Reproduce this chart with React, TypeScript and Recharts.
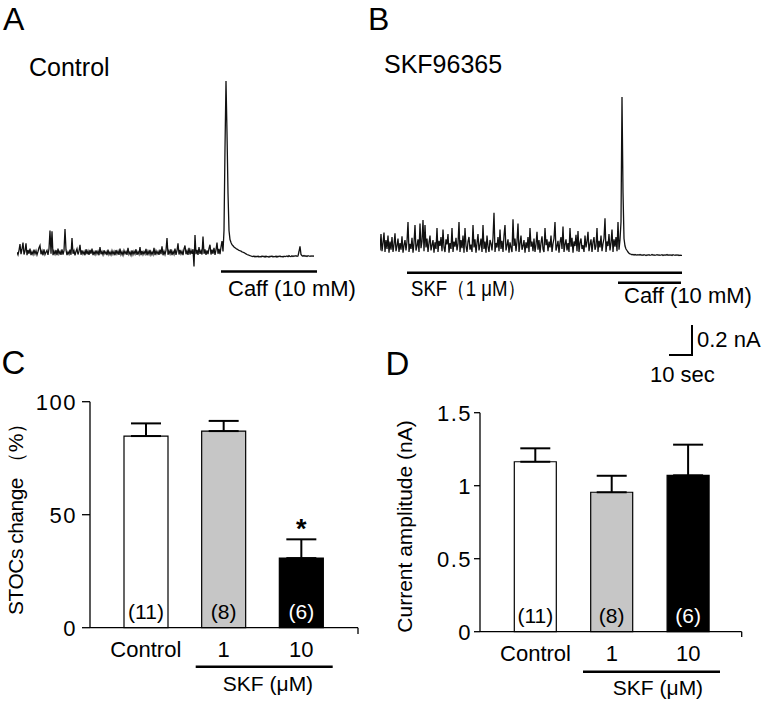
import React from 'react';
import { LineChart, Line, XAxis, YAxis, BarChart, Bar, Cell, ErrorBar, LabelList } from 'recharts';

const FONT = '"Liberation Sans", Arial, sans-serif';

// membrane current traces, pA relative to the resting baseline (one sample per ~0.43 s)
const controlTrace = [
  5, -12, 18, 60, -8, 25, 70, -10, 12, 65, -15, 20, -5, 30, -14, 8, -10, 22, -6, 15,
  -12, 10, 35, 50, -8, 14, -15, 25, -10, 5, 18, -12, 28, 150, -5, 145, -14, 12, -8, 20,
  -15, 30, -6, 10, -12, 24, -10, 15, 160, 20, -14, 8, -8, 22, -12, 100, -5, 15, -15, 10,
  28, -10, 12, 55, -12, 18, -6, 10, -15, 25, -8, 14, -12, 20, -5, 30, -14, 8, -10, 18,
  -6, 12, -15, 40, -8, 10, -12, 18, -5, 8, -14, 22, -10, 6, -12, 15, -8, 10, -15, 20,
  -6, 12, -12, 30, -10, 8, -14, 16, -5, 10, -12, 35, -8, 6, -15, 18, -10, 12, -6, 25,
  -12, 8, -8, 40, -14, 14, -10, 10, -6, 28, -15, 12, -8, 20, -12, 6, -10, 35, -14, 15,
  -6, 10, -12, 22, -8, 45, -15, 12, -10, 18, 100, -12, 14, -6, 25, -14, 10, -8, 30, -12,
  15, 65, -10, 20, -6, 12, -14, 28, 50, -8, 15, -12, 35, -10, 18, -5, 25, -90, 120, -8,
  20, -12, 40, -6, 15, -10, 110, -5, 25, -12, 18, -8, 30, 55, -10, 22, -5, 35, -12, 20,
  70, -5, 28, -8, 40, 80, 10, 150, 700, 1147, 800, 400, 150, 90, 70, 55, 48, 40, 35, 30,
  26, 22, 18, 15, 12, 8, 5, 2, -2, -6, -10, -12, -15, -18, -20, -22, -24, -20, -26, -22,
  -25, -21, -27, -23, -26, -20, -24, -22, -27, -21, -25, -23, -28, -22, -24, -20, -26, -23, -25, -21,
  -27, -22, -24, -20, -25, -23, -26, -21, -24, -22, -20, -25, -18, -22, -24, -19, -23, -20, -21, -18,
  -22, -20, 10, 45, -10, -18, -21, -17, -22, -19, -23, -18, -20, -22, -19, -21, -20, -22,
];

const skfTrace = [
  10, 120, 5, 60, 130, 0, 80, 20, 110, -5, 70, 15, 100, 0, 50, 125, 5, 40, 90, 0,
  60, 15, 105, -5, 45, 80, 10, 70, 200, 0, 55, 20, 95, -5, 60, 180, 10, 40, 85, 0,
  190, 25, 70, 213, 5, 180, 30, 90, 0, 60, 110, 10, 45, 80, -5, 65, 20, 160, 0, 75,
  40, 100, 5, 150, 30, 0, 85, 50, 120, -5, 60, 20, 160, 0, 70, 35, 95, 10, 55, 200,
  0, 80, 25, 110, -5, 160, 40, 0, 70, 100, 15, 50, 0, 180, 30, 85, -5, 60, 120, 10,
  45, 90, 0, 180, 20, 70, -5, 110, 35, 0, 80, 55, 10, 95, 262, 0, 60, 30, 100, 5,
  150, 20, 75, 0, 110, 180, 10, 45, 85, -5, 65, 30, 0, 218, 40, 90, 5, 70, 190, 0,
  55, 110, 15, 40, 80, -5, 65, 25, 100, 0, 160, 35, 70, 5, 90, 0, 50, 135, 15, 80,
  -5, 60, 105, 20, 0, 160, 45, 85, 5, 70, 30, 110, 0, 55, 90, 200, 10, 40, 75, -5,
  65, 100, 20, 170, 0, 50, 85, 10, 60, 0, 160, 35, 95, -5, 70, 40, 115, 5, 140, 0,
  60, 90, 20, 45, 0, 110, 30, 70, 135, 5, 50, 85, 0, 65, 100, 15, 40, 160, 0, 75,
  30, 110, 5, 55, 90, 225, 0, 70, 40, 120, 10, 60, 150, 0, 85, 35, 100, 5, 200, 15,
  80, 200, 1033, 400, 90, 40, 20, 10, 0, -8, -12, -15, -18, -16, -20, -17, -19, -21, -18, -20,
  -17, -21, -19, -22, -18, -20, -23, -19, -21, -18, -22, -20, -17, -21, -19, -22, -20, -18, -21, -19,
  -22, -20, -18, -23, -19, -21, -20, -17, -22, -19, -21, -20, -23, -18, -20, -22, -19, -21, -20, -24,
  -21, -23, -22,
];

const groups = ['Control', '1', '10'];
const counts = ['(11)', '(8)', '(6)'];
const stocsChange = [84.8, 87.0, 30.8];
const stocsSem = [5.6, 4.5, 8.3];
const stocsSig = ['', '', '*'];
const stocsTicks = [0, 50, 100];
const amplitude = [1.164, 0.955, 1.071];
const amplitudeSem = [0.092, 0.113, 0.21];
const amplitudeTicks = [0, 0.5, 1, 1.5];

const barFills = ['#ffffff', '#c6c6c6', '#000000'];
const countFills = ['#000', '#000', '#fff'];

function Trace({ data, left, width, domain }: { data: number[]; left: number; width: number; domain: number[] }) {
  const rows = data.map((v, i) => ({ t: i, v }));
  return (
    <div style={{ position: 'absolute', left, top: 70 }}>
      <LineChart width={width} height={205} data={rows} margin={{ top: 0, right: 0, bottom: 0, left: 0 }}>
        <XAxis type="number" dataKey="t" domain={[0, data.length - 1]} hide />
        <YAxis type="number" domain={domain} hide allowDataOverflow />
        <Line type="linear" dataKey="v" stroke="#111" strokeWidth={1.3} dot={false} isAnimationActive={false} />
      </LineChart>
    </div>
  );
}

const boxOf = (p: any) => {
  const vb = p.viewBox || {};
  return {
    x: p.x ?? vb.x,
    y: p.y ?? vb.y,
    w: p.width ?? vb.width,
    h: p.height ?? vb.height,
  };
};

const renderCount = (p: any) => {
  const { x, y, w, h } = boxOf(p);
  return (
    <text x={x + w / 2} y={y + h - 9} textAnchor="middle" fontSize={21} fontFamily={FONT} fill={countFills[p.index] || '#000'}>
      {p.value}
    </text>
  );
};

type Row = { group: string; value: number; err: number[]; n: string; sig: string };

function BarPanel(props: {
  rows: Row[]; left: number; top: number; width: number; height: number;
  margin: { top: number; right: number; bottom: number; left: number };
  yWidth: number; domain: number[]; ticks: number[]; tickSize: number; tickGap: number; barSize: number;
  padding: { left: number; right: number };
}) {
  const { rows } = props;
  const renderSig = (p: any) => {
    const r = rows[p.index];
    if (!r || !r.sig) return null;
    const { x, y, w, h } = boxOf(p);
    const top = y - r.err[1] * (h / r.value);
    return (
      <text x={x + w / 2} y={top - 1} textAnchor="middle" fontSize={27} fontWeight="bold" fontFamily={FONT} fill="#000">
        {r.sig}
      </text>
    );
  };
  return (
    <div style={{ position: 'absolute', left: props.left, top: props.top }}>
      <BarChart width={props.width} height={props.height} data={rows} margin={props.margin} barCategoryGap={0}>
        <XAxis
          dataKey="group"
          padding={props.padding}
          axisLine={{ stroke: '#000', strokeWidth: 1.3 }}
          tickLine={false}
          tickMargin={8}
          height={30}
          interval={0}
          tick={{ fontSize: 22, fill: '#000', fontFamily: FONT }}
        />
        <YAxis
          width={props.yWidth}
          domain={props.domain}
          ticks={props.ticks}
          axisLine={{ stroke: '#000', strokeWidth: 1.3 }}
          tickLine={{ stroke: '#000', strokeWidth: 1.3 }}
          tickSize={props.tickSize}
          tickMargin={props.tickGap}
          tick={{ fontSize: 22, fill: '#000', fontFamily: FONT, letterSpacing: 1.5 }}
        />
        <Bar dataKey="value" barSize={props.barSize} stroke="#000" strokeWidth={1.2} isAnimationActive={false}>
          {rows.map((r, i) => (
            <Cell key={r.group} fill={barFills[i]} />
          ))}
          <ErrorBar dataKey="err" width={15} stroke="#000" strokeWidth={2} direction="y" />
          <LabelList dataKey="n" content={renderCount} />
          <LabelList dataKey="sig" content={renderSig} />
        </Bar>
      </BarChart>
    </div>
  );
}

export default function App() {
  const stocsRows: Row[] = groups.map((g, i) => ({
    group: g, value: stocsChange[i], err: [0, stocsSem[i]], n: counts[i], sig: stocsSig[i],
  }));
  const ampRows: Row[] = groups.map((g, i) => ({
    group: g, value: amplitude[i], err: [0, amplitudeSem[i]], n: counts[i], sig: '',
  }));

  const txt = { fontFamily: FONT, fill: '#000' };

  return (
    <div style={{ position: 'absolute', left: 0, top: 0, width: 765, height: 703, background: '#fff', overflow: 'hidden' }}>
      <Trace data={controlTrace} left={17} width={297} domain={[-146.67, 1220]} />
      <Trace data={skfTrace} left={380} width={302} domain={[-153.33, 1213.33]} />

      <BarPanel
        rows={stocsRows} left={0} top={380} width={380} height={320}
        margin={{ top: 21.7, right: 22, bottom: 42.3, left: 0 }}
        yWidth={90} domain={[0, 100]} ticks={stocsTicks} tickSize={8} tickGap={5} barSize={44}
        padding={{ left: 17, right: 18 }}
      />
      <BarPanel
        rows={ampRows} left={380} top={380} width={385} height={320}
        margin={{ top: 32.7, right: 23.3, bottom: 38.3, left: 0 }}
        yWidth={100} domain={[0, 1.5]} ticks={amplitudeTicks} tickSize={6} tickGap={2} barSize={42}
        padding={{ left: 17.3, right: 15.2 }}
      />

      <svg width={765} height={703} style={{ position: 'absolute', left: 0, top: 0, pointerEvents: 'none' }}>
        <text x={3} y={30} fontSize={32} {...txt}>A</text>
        <text x={368} y={29.5} fontSize={32} {...txt}>B</text>
        <text x={1.5} y={374} fontSize={33} {...txt}>C</text>
        <text x={385.5} y={375} fontSize={33} {...txt}>D</text>

        <text x={29} y={76} fontSize={25} {...txt}>Control</text>
        <text x={384} y={73} fontSize={25} {...txt}>SKF96365</text>

        <line x1={221} x2={317} y1={271.5} y2={271.5} stroke="#000" strokeWidth={2.5} />
        <text x={228} y={295.5} fontSize={22} {...txt}>Caff (10 mM)</text>

        <line x1={407} x2={682} y1={272.7} y2={272.7} stroke="#000" strokeWidth={2.5} />
        <line x1={618} x2={681} y1={282.7} y2={282.7} stroke="#000" strokeWidth={2.5} />
        <text x={411} y={296} fontSize={22} textLength={115} lengthAdjust="spacingAndGlyphs" {...txt}>SKF（1 μM）</text>
        <text x={624} y={302.5} fontSize={22} {...txt}>Caff (10 mM)</text>

        <path d="M669 355 H692 V325" fill="none" stroke="#000" strokeWidth={2} />
        <text x={697} y={346.5} fontSize={22} {...txt}>0.2 nA</text>
        <text x={650} y={381.5} fontSize={22} {...txt}>10 sec</text>

        <text transform="translate(23 514) rotate(-90)" textAnchor="middle" fontSize={21} textLength={202} {...txt}>STOCs change （%）</text>
        <text transform="translate(412 526.5) rotate(-90)" textAnchor="middle" fontSize={21} {...txt}>Current amplitude (nA)</text>

        <line x1={358} x2={358} y1={627.7} y2={634} stroke="#000" strokeWidth={1.3} />
        <line x1={741.7} x2={741.7} y1={631.7} y2={637} stroke="#000" strokeWidth={1.3} />

        <line x1={195.7} x2={332.7} y1={666.7} y2={666.7} stroke="#000" strokeWidth={2.5} />
        <text x={268} y={691} textAnchor="middle" fontSize={21} {...txt}>SKF (μM)</text>
        <line x1={583} x2={720} y1={671.7} y2={671.7} stroke="#000" strokeWidth={2.5} />
        <text x={658} y={694.5} textAnchor="middle" fontSize={21} {...txt}>SKF (μM)</text>
      </svg>
    </div>
  );
}
